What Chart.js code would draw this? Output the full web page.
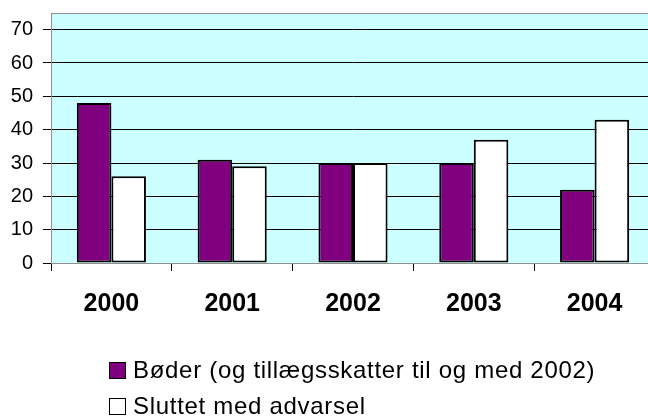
<!DOCTYPE html>
<html>
<head>
<meta charset="utf-8">
<script src="https://cdn.jsdelivr.net/npm/chart.js@4"></script>
<style>
  html, body { margin: 0; padding: 0; background: #fff; overflow: hidden; }
  #wrap { position: relative; width: 648px; height: 419px; overflow: hidden; }
  #chart { position: absolute; left: 0; top: 0; }
  #legend { position: absolute; left: 109px; top: 362px; font-family: "Liberation Sans", Arial, sans-serif; font-size: 24px; letter-spacing: 0.7px; color: #000; }
  .item { display: flex; align-items: center; height: 16px; margin-bottom: 20px; white-space: nowrap; }
  .box { width: 15px; height: 15px; border: 1px solid #000; margin-right: 7px; flex: none; }
  .item span.txt { line-height: 16px; }
</style>
</head>
<body>
<div id="wrap">
  <canvas id="chart" width="655" height="419"></canvas>
  <div id="legend"></div>
</div>
<script>
var years = ['2000', '2001', '2002', '2003', '2004'];
var boeder = [48, 31, 30, 30, 22];
var advarsel = [26, 29, 30, 37, 43];
var seriesNames = ['Bøder (og tillægsskatter til og med 2002)', 'Sluttet med advarsel'];
var yTicks = [0, 10, 20, 30, 40, 50, 60, 70];

// plot background + frame, like the old spreadsheet chart
var plotArea = {
    id: 'plotArea',
    beforeDraw: function (chart) {
        var a = chart.chartArea, ctx = chart.ctx;
        ctx.save();
        ctx.fillStyle = '#ccffff';
        ctx.fillRect(a.left, a.top, a.right - a.left, a.bottom - a.top);
        ctx.restore();
    },
    afterDatasetsDraw: function (chart) {
        var a = chart.chartArea, ctx = chart.ctx;
        ctx.save();
        ctx.strokeStyle = '#909090';
        ctx.lineWidth = 1;
        ctx.strokeRect(Math.round(a.left) + 0.5, Math.round(a.top) + 0.5, a.right - a.left, a.bottom - a.top);
        ctx.restore();
    }
};

var font = '"Liberation Sans", Arial, sans-serif';

var chart = new Chart(document.getElementById('chart'), {
    type: 'bar',
    data: {
        labels: years,
        datasets: [{
            label: seriesNames[0],
            data: boeder,
            backgroundColor: '#800080',
            borderColor: '#000',
            borderWidth: 2,
            borderSkipped: false
        }, {
            label: seriesNames[1],
            data: advarsel,
            backgroundColor: '#ffffff',
            borderColor: '#000',
            borderWidth: 2,
            borderSkipped: false
        }]
    },
    options: {
        responsive: false,
        animation: false,
        layout: { padding: { top: 13, left: 0, right: 0, bottom: 0 } },
        datasets: {
            bar: { categoryPercentage: 0.572, barPercentage: 1.0 }
        },
        plugins: {
            legend: { display: false },
            tooltip: { enabled: false }
        },
        scales: {
            x: {
                afterFit: function (s) { s.height = 156; },
                grid: { drawOnChartArea: false, tickLength: 8, tickColor: '#000', offset: true },
                border: { color: '#808080' },
                ticks: { color: '#000', padding: 18, font: { family: font, size: 25, weight: 'bold' } }
            },
            y: {
                min: 0,
                max: 75,
                afterFit: function (s) {
                    s.width = 51;
                    s.paddingTop = 0;
                    s.paddingBottom = 0;
                },
                afterBuildTicks: function (s) {
                    s.ticks = yTicks.map(function (v) { return { value: v }; });
                },
                grid: {
                    color: function (c) { return c.tick && c.tick.value === 0 ? 'rgba(0,0,0,0)' : '#000'; },
                    tickColor: '#000',
                    tickLength: 8
                },
                border: { color: '#404040' },
                ticks: { color: '#000', padding: 10, font: { family: font, size: 20 } }
            }
        }
    },
    plugins: [plotArea]
});

// legend as plain html rows, left aligned
var legend = document.getElementById('legend');
chart.data.datasets.forEach(function (ds) {
    var row = document.createElement('div');
    row.className = 'item';
    var box = document.createElement('span');
    box.className = 'box';
    box.style.background = ds.backgroundColor;
    var txt = document.createElement('span');
    txt.className = 'txt';
    txt.textContent = ds.label;
    row.appendChild(box);
    row.appendChild(txt);
    legend.appendChild(row);
});
</script>
</body>
</html>
